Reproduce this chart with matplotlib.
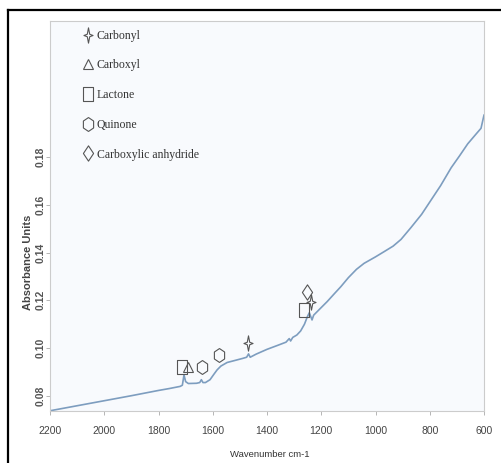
import matplotlib
matplotlib.use("Agg")
import numpy as np
import matplotlib.pyplot as plt
from matplotlib.lines import Line2D
from matplotlib.path import Path

# FTIR spectrum (wavenumber in cm-1, absorbance)
wavenumber = [2200, 2100, 2000, 1900, 1800, 1760, 1720, 1712, 1706, 1700, 1690,
              1660, 1648, 1642, 1636, 1627, 1610, 1595, 1584, 1570, 1547, 1520,
              1490, 1475, 1468, 1462, 1440, 1400, 1360, 1330, 1318, 1313, 1305,
              1290, 1276, 1262, 1251, 1244, 1238, 1234, 1228, 1200, 1178, 1150,
              1128, 1100, 1070, 1042, 1000, 968, 935, 906, 869, 830, 795, 760,
              721, 690, 660, 630, 611, 600]
absorbance = [0.0738, 0.0759, 0.0780, 0.0801, 0.0823, 0.0831, 0.0840, 0.0845,
              0.0888, 0.0860, 0.0852, 0.0853, 0.0856, 0.0868, 0.0856, 0.0856,
              0.0868, 0.0892, 0.0909, 0.0925, 0.0940, 0.0948, 0.0957, 0.0962,
              0.0976, 0.0962, 0.0975, 0.0995, 0.1012, 0.1025, 0.1040, 0.1030,
              0.1045, 0.1055, 0.1072, 0.1100, 0.1132, 0.1148, 0.1130, 0.1118,
              0.1138, 0.1170, 0.1195, 0.1230, 0.1257, 0.1295, 0.1330, 0.1355,
              0.1382, 0.1404, 0.1427, 0.1455, 0.1505, 0.1560, 0.1620, 0.1680,
              0.1755, 0.1805, 0.1855, 0.1895, 0.1920, 0.1975]

# marker shapes for the functional groups
star = Path([(0, 1), (0.16, 0.16), (0.6, 0), (0.16, -0.16), (0, -1),
             (-0.16, -0.16), (-0.6, 0), (-0.16, 0.16), (0, 1)], closed=True)
rect = Path([(-0.38, -0.5), (0.38, -0.5), (0.38, 0.5), (-0.38, 0.5), (-0.38, -0.5)], closed=True)
ang = np.deg2rad([90, 150, 210, 270, 330, 30, 90])
hexa = Path(np.column_stack([0.85 * np.cos(ang), np.sin(ang)]), closed=True)
diam = Path([(0, -0.6), (0.4, 0), (0, 0.6), (-0.4, 0), (0, -0.6)], closed=True)

# functional group labels: name, marker, and where they are placed on the spectrum
groups = ["Carbonyl", "Carboxyl", "Lactone", "Quinone", "Carboxylic anhydride"]
group_markers = [star, "^", rect, hexa, diam]
group_sizes = [11, 7, 10, 10, 11]
group_wn = [[1469, 1236], [1693], [1713, 1264], [1640, 1578], [1251]]
group_abs = [[0.1020, 0.1195], [0.0922], [0.0922, 0.1160], [0.0920, 0.0972], [0.1236]]

xticks = [2200, 2000, 1800, 1600, 1400, 1200, 1000, 800, 600]
yticks = [0.08, 0.10, 0.12, 0.14, 0.16, 0.18]

fig = plt.figure(figsize=(5.01, 4.63), dpi=100)
ax = fig.add_axes([50 / 501, 1 - 411 / 463, 434 / 501, 390 / 463])
ax.set_facecolor("#f8fafd")

ax.plot(wavenumber, absorbance, color="#7d9dbf", lw=1.2)

mcol = "#555555"
for wn, ab, m, s in zip(group_wn, group_abs, group_markers, group_sizes):
    ax.plot(wn, ab, linestyle="none", marker=m, markersize=s,
            markerfacecolor="none", markeredgecolor=mcol, markeredgewidth=0.8)

handles = [Line2D([], [], linestyle="none", marker=m, markersize=s,
                  markerfacecolor="none", markeredgecolor=mcol, markeredgewidth=0.8)
           for m, s in zip(group_markers, group_sizes)]
leg = ax.legend(handles, groups, loc="upper left", bbox_to_anchor=(0.052, 1.005),
                frameon=False, handlelength=0.8, handletextpad=0.35,
                labelspacing=1.5, prop={"family": "Liberation Serif", "size": 8.5})
for t in leg.get_texts():
    t.set_color("#333333")

ax.set_xlim(2200, 600)
ax.set_ylim(0.0737, 0.2369)
ax.set_xticks(xticks)
ax.set_xticklabels([str(v) for v in xticks], family="Liberation Sans",
                   fontsize=7.5, color="#444444")
ax.set_yticks(yticks)
ax.set_yticklabels([f"{v:.2f}" for v in yticks], rotation=90, va="center",
                   family="Liberation Sans", fontsize=7.5, fontweight="bold", color="#555555")

ax.tick_params(axis="both", direction="out", length=3, width=0.6, color="#aaaaaa")
ax.tick_params(axis="x", pad=8)
ax.tick_params(axis="y", pad=0.5)
for sp in ax.spines.values():
    sp.set_color("#cccccc")
    sp.set_linewidth(0.8)

ax.set_xlabel("Wavenumber cm-1", family="Liberation Sans", fontsize=6.8, color="#333333")
ax.xaxis.set_label_coords(0.507, -0.1)
ax.set_ylabel("Absorbance Units", family="Liberation Sans", fontsize=8,
              fontweight="bold", color="#444444")
ax.yaxis.set_label_coords(-0.039, 0.38)

# black frame along top and left edges
fig.add_artist(Line2D([8 / 501, 8 / 501], [0, 1 - 10 / 463], color="black", lw=1.6))
fig.add_artist(Line2D([8 / 501, 1], [1 - 10 / 463, 1 - 10 / 463], color="black", lw=1.6))

fig.savefig("out.png", dpi=100)
